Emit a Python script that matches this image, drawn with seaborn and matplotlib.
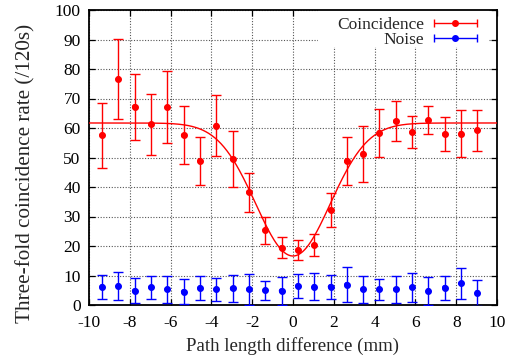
import numpy as np
import pandas as pd
import matplotlib
matplotlib.use("Agg")
import matplotlib.pyplot as plt
import seaborn as sns
from matplotlib.legend_handler import HandlerErrorbar
from matplotlib.patches import Rectangle

# ---- data ----
path_diff = [-9.36, -8.56, -7.76, -6.96, -6.16, -5.36, -4.56, -3.76, -2.96, -2.16, -1.36, -0.56,
             0.24, 1.04, 1.84, 2.64, 3.44, 4.24, 5.04, 5.84, 6.64, 7.44, 8.24, 9.04]
coinc = [57.6, 76.6, 67.2, 61.2, 67.0, 57.5, 48.9, 60.8, 49.5, 38.2, 25.4, 19.4,
         18.6, 20.3, 32.2, 48.8, 51.3, 58.4, 62.3, 58.6, 62.7, 57.9, 58.1, 59.2]
coinc_err = [11.0, 13.7, 11.1, 10.3, 12.2, 9.8, 8.1, 10.3, 9.4, 6.7, 4.6, 3.5,
             3.5, 3.6, 5.8, 8.2, 9.5, 8.1, 6.8, 5.3, 4.8, 5.8, 8.0, 6.9]
noise = [6.2, 6.5, 4.8, 6.0, 5.3, 4.5, 5.8, 5.3, 5.6, 5.3, 5.0, 4.8,
         6.5, 6.2, 6.2, 6.9, 5.3, 5.3, 5.3, 6.0, 4.8, 5.9, 7.3, 4.2]
noise_err = [4.0, 4.8, 4.2, 4.0, 4.7, 4.2, 4.1, 4.0, 4.5, 5.2, 3.3, 4.8,
             4.1, 4.5, 4.1, 6.0, 4.7, 3.5, 4.5, 5.0, 4.8, 4.1, 5.2, 4.4]

# Gaussian-dip fit parameters (baseline, depth, centre, width)
fit_base, fit_depth, fit_x0, fit_sigma = 61.7, 45.1, 0.0, 1.83

x_ticks = [-10, -8, -6, -4, -2, 0, 2, 4, 6, 8, 10]
y_ticks = [0, 10, 20, 30, 40, 50, 60, 70, 80, 90, 100]

df = pd.DataFrame({"x": path_diff, "coinc": coinc, "coinc_err": coinc_err,
                   "noise": noise, "noise_err": noise_err})

sns.set_theme(style="ticks")
plt.rcParams["font.family"] = ["Liberation Serif", "DejaVu Serif"]

fig = plt.figure(figsize=(5.2, 3.56), dpi=100)
ax = fig.add_axes([89 / 520, 51 / 356, 408 / 520, 295 / 356])

red = "#ff0000"
blue = "#0000ff"

# fit curve
xf = np.linspace(-10, 10, 400)
yf = fit_base - fit_depth * np.exp(-(xf - fit_x0) ** 2 / (2 * fit_sigma ** 2))
sns.lineplot(x=xf, y=yf, ax=ax, color=red, lw=1.0, zorder=3)

# error bars
ax.errorbar(df["x"], df["coinc"], yerr=df["coinc_err"], fmt="o", color=red, ms=4,
            elinewidth=1.0, capsize=3.3, capthick=1.0, zorder=4)
ax.errorbar(df["x"], df["noise"], yerr=df["noise_err"], fmt="o", color=blue, ms=4,
            elinewidth=1.0, capsize=3.3, capthick=1.0, zorder=4)
sns.scatterplot(data=df, x="x", y="coinc", ax=ax, color=red, s=16, edgecolor="none", zorder=5)
sns.scatterplot(data=df, x="x", y="noise", ax=ax, color=blue, s=16, edgecolor="none", zorder=5)

# white key box hiding the grid behind the legend (gnuplot style)
ax.add_patch(Rectangle((0.561, 0.875), 0.417, 0.125, transform=ax.transAxes,
                       facecolor="white", edgecolor="none", zorder=1.8))

# legend proxies (horizontal error bars as in the original)
h1 = ax.errorbar([np.nan], [np.nan], xerr=[1], fmt="o", color=red, ms=4,
                 elinewidth=1.0, capsize=3, capthick=1.0, label="Coincidence")
h2 = ax.errorbar([np.nan], [np.nan], xerr=[1], fmt="o", color=blue, ms=4,
                 elinewidth=1.0, capsize=3, capthick=1.0, label="Noise")
leg = ax.legend(handles=[h1, h2], loc="upper right", bbox_to_anchor=(0.9706, 1.001),
                frameon=False, markerfirst=False, fontsize=12.5, handlelength=2.6,
                handletextpad=0.52, labelspacing=-0.04, borderaxespad=0.0,
                handler_map={type(h1): HandlerErrorbar(xerr_size=1.25)})
for t in leg.get_texts():
    t.set_ha("right")

ax.set_xlim(-10, 10)
ax.set_ylim(0, 100)
ax.set_xticks(x_ticks)
ax.set_yticks(y_ticks)
ax.set_xticklabels([str(v) for v in x_ticks])
ax.set_yticklabels([str(v) for v in y_ticks])
ax.tick_params(direction="in", top=True, right=True, length=4, width=0.9,
               labelsize=12.5, colors="black")
ax.tick_params(axis="x", pad=7)
ax.tick_params(axis="y", pad=6)
ax.grid(True, linestyle=(0, (1, 1.5)), color="#555555", lw=0.8, zorder=1.5)
for s in ax.spines.values():
    s.set_linewidth(1.3)
    s.set_color("black")

ax.set_xlabel("Path length difference (mm)", fontsize=13.6)
ax.set_ylabel("Three-fold coincidence rate (/120s)", fontsize=15.2)
ax.xaxis.set_label_coords(0.5, -0.108)
ax.yaxis.set_label_coords(-0.132, 0.447)

fig.savefig("out.png", dpi=100)
